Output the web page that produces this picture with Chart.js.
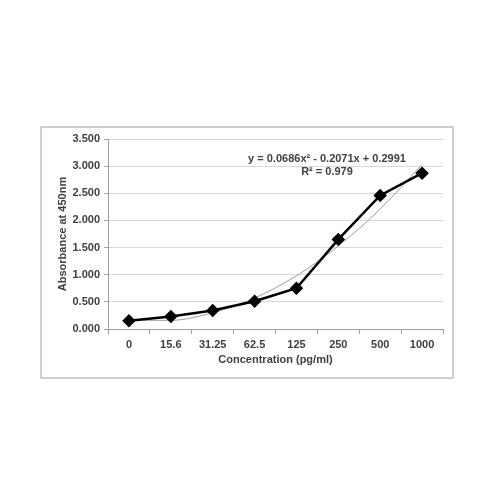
<!DOCTYPE html>
<html>
<head>
<meta charset="utf-8">
<script src="https://cdn.jsdelivr.net/npm/chart.js@4"></script>
<style>
  body { margin: 0; background: #fff; }
  #wrap { width: 500px; height: 500px; }
</style>
</head>
<body>
<div id="wrap"><canvas id="myChart" width="500" height="500"></canvas></div>
<script>
// Data
var concentrations = ['0', '15.6', '31.25', '62.5', '125', '250', '500', '1000'];
var absorbance = [0.15, 0.23, 0.34, 0.51, 0.75, 1.65, 2.46, 2.87];
// polynomial trendline
var trend = [0.16, 0.16, 0.30, 0.57, 0.98, 1.53, 2.21, 3.03];
var equation = 'y = 0.0686x\u00b2 - 0.2071x + 0.2991';
var rSquared = 'R\u00b2 = 0.979';

var textColor = '#404040';
var font = { family: 'Liberation Sans, Arial, sans-serif', size: 11, weight: 'bold' };

// frame around the chart and the trendline label
var extras = {
  id: 'extras',
  beforeDraw: function(chart) {
    var c = chart.ctx;
    c.save();
    c.fillStyle = '#fff';
    c.fillRect(0, 0, chart.width, chart.height);
    c.strokeStyle = '#c0c0c0';
    c.lineWidth = 1.5;
    c.strokeRect(41, 127, 412, 251);
    c.restore();
  },
  afterDatasetsDraw: function(chart) {
    var c = chart.ctx;
    c.save();
    c.font = 'bold 11px Liberation Sans, Arial, sans-serif';
    c.fillStyle = textColor;
    c.textAlign = 'center';
    c.textBaseline = 'middle';
    c.fillText(equation, 327, 159);
    c.fillText(rSquared, 327, 172);
    c.restore();
  }
};

var ctx = document.getElementById('myChart');
var myChart = new Chart(ctx, {
  type: 'line',
  data: {
    labels: concentrations,
    datasets: [{
      data: absorbance,
      borderColor: '#000',
      backgroundColor: '#000',
      borderWidth: 2.5,
      pointStyle: 'rectRot',
      pointRadius: 5,
      tension: 0,
      order: 0
    }, {
      data: trend,
      borderColor: '#a0a0a0',
      borderWidth: 1,
      pointRadius: 0,
      cubicInterpolationMode: 'monotone',
      order: 1
    }]
  },
  options: {
    responsive: false,
    animation: false,
    layout: { padding: { left: 56, right: 57, top: 139, bottom: 133 } },
    plugins: { legend: { display: false }, tooltip: { enabled: false } },
    scales: {
      x: {
        offset: true,
        grid: { offset: true, drawOnChartArea: false, color: '#a0a0a0', tickLength: 5 },
        border: { color: '#a0a0a0' },
        ticks: { color: textColor, font: font, padding: 4, maxRotation: 0 },
        title: { display: true, text: 'Concentration (pg/ml)', color: textColor, font: font, padding: { top: 3, bottom: 0 } },
        afterFit: function(scale) { scale.height = 38; }
      },
      y: {
        min: 0,
        max: 3.5,
        ticks: {
          stepSize: 0.5,
          color: textColor,
          font: font,
          padding: 4,
          callback: function(v) { return v.toFixed(3); }
        },
        grid: { color: '#d9d9d9', tickLength: 4, tickColor: '#a0a0a0' },
        border: { color: '#a0a0a0' },
        title: { display: true, text: 'Absorbance at 450nm', color: textColor, font: font, padding: { top: 0, bottom: 0 } },
        afterFit: function(scale) { scale.width = 52; }
      }
    }
  },
  plugins: [extras]
});
</script>
</body>
</html>
